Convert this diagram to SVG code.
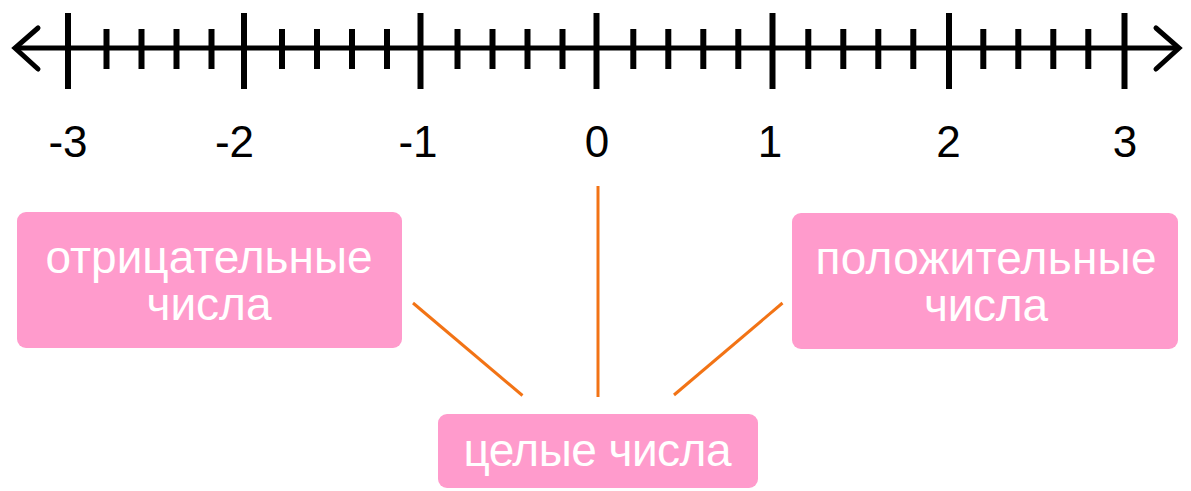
<svg xmlns="http://www.w3.org/2000/svg" width="1191" height="491" viewBox="0 0 1191 491">
  <style>
    .axis { stroke: #000; stroke-width: 5; fill: none; stroke-linecap: round; }
    .tick { stroke: #000; stroke-width: 6; fill: none; }
    .num { font-family: "Liberation Sans", Arial, sans-serif; font-size: 44px; fill: #000; text-anchor: middle; }
    .box { fill: #FF9BCC; }
    .lbl { font-family: "Liberation Sans", Arial, sans-serif; font-size: 46px; fill: #FFFFFF; text-anchor: middle; }
    .conn { stroke: #F27315; stroke-width: 3; fill: none; }
  </style>
  <rect width="1191" height="491" fill="#FFFFFF"/>
  <g id="number-line">
    <line class="axis" x1="16" y1="48" x2="1177" y2="48"/>
    <polyline class="axis" points="38,28 15,48 38,69" stroke-linejoin="miter"/>
    <polyline class="axis" points="1156,28 1179,48 1156,69" stroke-linejoin="miter"/>
    <g class="major">
      <line class="tick" x1="68" y1="13" x2="68" y2="89"/>
      <line class="tick" x1="244" y1="13" x2="244" y2="89"/>
      <line class="tick" x1="420.5" y1="13" x2="420.5" y2="89"/>
      <line class="tick" x1="596.5" y1="13" x2="596.5" y2="89"/>
      <line class="tick" x1="772.5" y1="13" x2="772.5" y2="89"/>
      <line class="tick" x1="949" y1="13" x2="949" y2="89"/>
      <line class="tick" x1="1124.5" y1="13" x2="1124.5" y2="89"/>
    </g>
    <path class="tick" d="M106.5 29V69M141.5 29V69M176.5 29V69M211.5 29V69
      M282 29V69M317 29V69M352 29V69M387 29V69
      M457.5 29V69M492.5 29V69M527.5 29V69M562.5 29V69
      M633.3 29V69M668.3 29V69M703.3 29V69M738.3 29V69
      M808.3 29V69M843.3 29V69M878.3 29V69M913.3 29V69
      M983.3 29V69M1018.3 29V69M1053.3 29V69M1088.3 29V69"/>
    <text class="num" x="68" y="157">-3</text>
    <text class="num" x="234.5" y="157">-2</text>
    <text class="num" x="418" y="157">-1</text>
    <text class="num" x="597" y="157">0</text>
    <text class="num" x="770" y="157">1</text>
    <text class="num" x="948.5" y="157">2</text>
    <text class="num" x="1125" y="157">3</text>
  </g>
  <g id="connectors">
    <line class="conn" x1="598" y1="186" x2="598" y2="397"/>
    <line class="conn" x1="413" y1="303" x2="522.5" y2="395.5"/>
    <line class="conn" x1="782.5" y1="303" x2="674" y2="395"/>
  </g>
  <g id="negative">
    <rect class="box" x="17" y="212" width="385" height="136" rx="9"/>
    <text class="lbl" x="209" y="273" textLength="327" lengthAdjust="spacing">отрицательные</text>
    <text class="lbl" x="209" y="320" textLength="125" lengthAdjust="spacing">числа</text>
  </g>
  <g id="positive">
    <rect class="box" x="792" y="213" width="386" height="136" rx="9"/>
    <text class="lbl" x="986" y="274" textLength="341" lengthAdjust="spacing">положительные</text>
    <text class="lbl" x="986" y="321" textLength="124" lengthAdjust="spacing">числа</text>
  </g>
  <g id="integers">
    <rect class="box" x="438" y="414" width="320" height="74" rx="9"/>
    <text class="lbl" x="597.5" y="466" textLength="268" lengthAdjust="spacing">целые числа</text>
  </g>
</svg>
